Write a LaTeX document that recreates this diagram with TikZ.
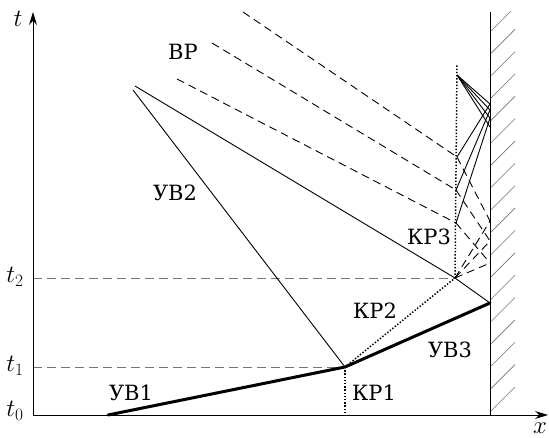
\documentclass[tikz,border=0pt]{standalone}
\usepackage{fontspec}
\setmainfont{DejaVu Serif}
\usetikzlibrary{arrows.meta}
\begin{document}
\begin{tikzpicture}[x=1pt,y=-1pt,
  thinl/.style={line width=0.9pt},
  thickl/.style={line width=3pt, line cap=round},
  wavedash/.style={line width=0.9pt, dash pattern=on 8pt off 5pt},
  guidedash/.style={line width=0.8pt, black!55, dash pattern=on 9pt off 5pt},
  contact/.style={line width=1.5pt, dash pattern=on 1.4pt off 1.8pt},
  hatchl/.style={line width=0.6pt, black!55},
  lbl/.style={font=\fontsize{21}{24}\selectfont, inner sep=0pt},
  mlbl/.style={font=\fontsize{23}{26}\selectfont, inner sep=0pt},
  axisl/.style={line width=1pt, -{Stealth[length=13pt,width=8pt]}}
]
\useasboundingbox (0,0) rectangle (549,438);
% key points
\coordinate (O) at (33,415);
\coordinate (Ttop) at (33,12);
\coordinate (Xend) at (548,415);
\coordinate (Wtop) at (490,12);
\coordinate (Wbot) at (490,415);
\coordinate (P0) at (108,415);
\coordinate (K1) at (345,367);
\coordinate (K1b) at (345,415);
\coordinate (W0) at (490,303);
\coordinate (K2) at (455,278);
\coordinate (U2top) at (133,90);
\coordinate (Rtop) at (135,86);
\coordinate (T1) at (33,367);
\coordinate (T2) at (33,278);
\coordinate (K3top) at (457,64);
\coordinate (A) at (457,75);
\coordinate (C1) at (457,157);
\coordinate (C2) at (456,190);
\coordinate (C3) at (456,223);
\coordinate (D1) at (243,12);
\coordinate (D2) at (212,43);
\coordinate (D3) at (177,79);
\coordinate (E1) at (490,221);
\coordinate (E2) at (490,241);
\coordinate (E3) at (490,263);
\coordinate (F1) at (490,104);
\coordinate (F2) at (490,110);
\coordinate (F3) at (490,118);
\coordinate (F4) at (490,127);

% hatching of the wall
\begin{scope}
  \clip (490,12) rectangle (516,415);
  \foreach \k in {-1,...,17} {
    \draw[hatchl] (490,{32+22.35*\k}) -- ++(25,-25);
  }
\end{scope}

% guide lines
\draw[guidedash] (T1) -- (K1);
\draw[guidedash] (T2) -- (K2);

% axes and wall
\draw[axisl] (O) -- (Ttop);
\draw[axisl] (O) -- (Xend);
\draw[line width=1pt] (Wtop) -- (Wbot);

% shocks
\draw[thickl] (P0) -- (K1) -- (W0);
\draw[thinl] (K1) -- (U2top);
\draw[thinl] (Rtop) -- (K2) -- (W0);

% contact discontinuities
\draw[contact] (K1) -- (K1b);
\draw[contact] (K1) -- (K2);
\draw[contact] (K2) -- (K3top);

% rarefaction wave
\draw[wavedash] (D1) -- (C1);
\draw[wavedash] (D2) -- (C2);
\draw[wavedash] (D3) -- (C3);
\draw[wavedash] (C1) -- (E1);
\draw[wavedash] (C2) -- (E2);
\draw[wavedash] (C3) -- (E3);
\draw[wavedash] (K2) -- (E1);
\draw[wavedash] (K2) -- (E2);
\draw[wavedash] (K2) -- (E3);

% reflected waves near the wall
\draw[thinl] (C1) -- (F1);
\draw[thinl] (C2) -- (F2);
\draw[thinl] (C3) -- (F3);
\draw[thinl] (A) -- (F1);
\draw[thinl] (A) -- (F2);
\draw[thinl] (A) -- (F3);
\draw[thinl] (A) -- (F4);

% labels
\node[mlbl] (lt) at (18,19) {$t$};
\node[mlbl] (lx) at (540,428) {$x$};
\node[mlbl] (lt0) at (15,411) {$t_0$};
\node[mlbl] (lt1) at (15,366) {$t_1$};
\node[mlbl] (lt2) at (15,277) {$t_2$};
\node[lbl] (lVR) at (183,52) {ВР};
\node[lbl] (lUV2) at (175,193) {УВ2};
\node[lbl] (lUV1) at (131,393) {УВ1};
\node[lbl] (lKR1) at (374,393) {КР1};
\node[lbl] (lKR2) at (375,311) {КР2};
\node[lbl] (lUV3) at (450,350) {УВ3};
\node[lbl] (lKR3) at (429,237) {КР3};
\end{tikzpicture}
\end{document}
